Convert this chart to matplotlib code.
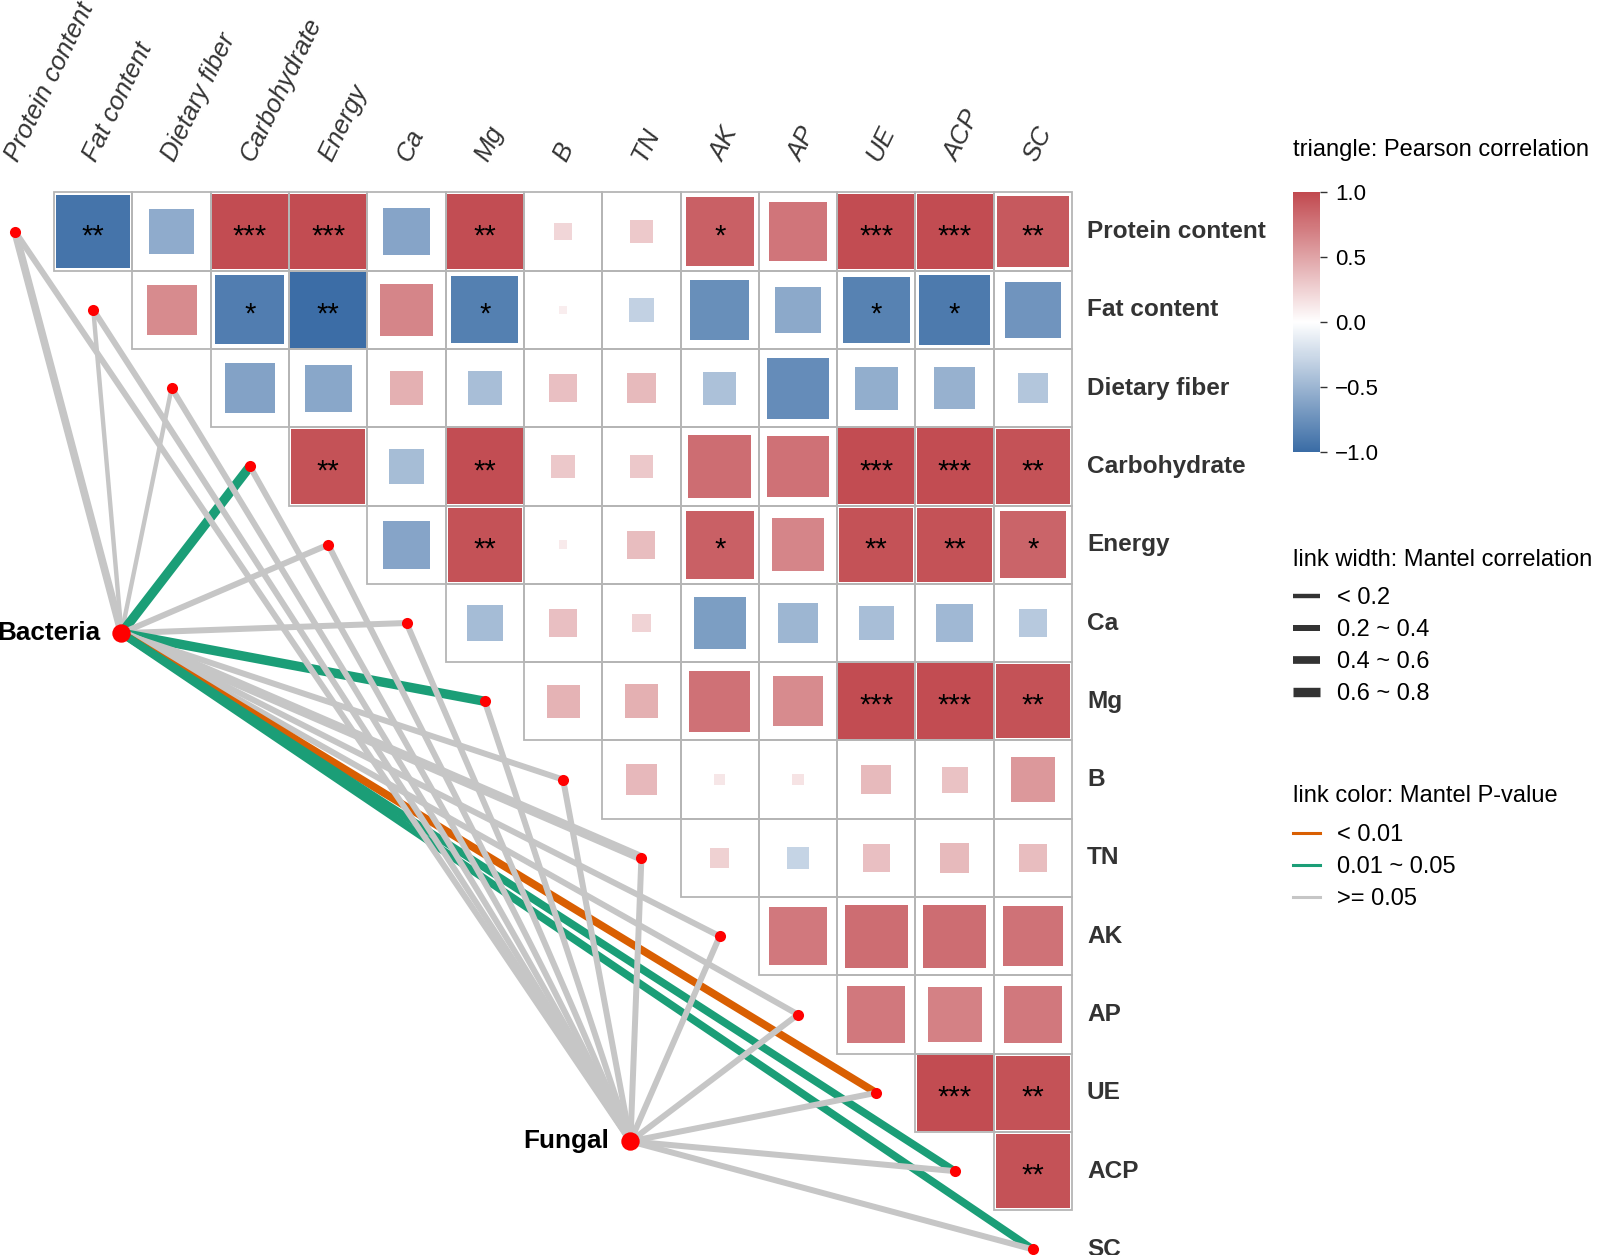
import numpy as np
import matplotlib.pyplot as plt
from matplotlib.colors import LinearSegmentedColormap, Normalize
from matplotlib.patches import Rectangle
from matplotlib.lines import Line2D
from matplotlib.cm import ScalarMappable

plt.rcParams['font.family'] = ['Liberation Sans', 'DejaVu Sans']

variables = ['Protein content', 'Fat content', 'Dietary fiber', 'Carbohydrate', 'Energy',
             'Ca', 'Mg', 'B', 'TN', 'AK', 'AP', 'UE', 'ACP', 'SC']

# upper triangle of the Pearson matrix: row i holds columns i+1 .. 13
r_upper = [
    [-0.94, -0.57, 0.98, 0.98, -0.61, 0.97, 0.22, 0.29, 0.87, 0.75, 0.98, 0.98, 0.91],
    [0.64, -0.88, -0.99, 0.67, -0.86, 0.10, -0.31, -0.76, -0.58, -0.85, -0.90, -0.72],
    [-0.63, -0.60, 0.43, -0.44, 0.35, 0.38, -0.42, -0.78, -0.55, -0.53, -0.39],
    [0.95, -0.45, 0.97, 0.30, 0.30, 0.80, 0.78, 0.98, 0.98, 0.95],
    [-0.61, 0.95, 0.11, 0.36, 0.87, 0.67, 0.95, 0.95, 0.85],
    [-0.46, 0.35, 0.24, -0.66, -0.50, -0.44, -0.48, -0.36],
    [0.42, 0.43, 0.78, 0.64, 0.98, 0.98, 0.95],
    [0.39, 0.14, 0.15, 0.38, 0.33, 0.57],
    [0.25, -0.29, 0.35, 0.38, 0.36],
    [0.74, 0.80, 0.80, 0.77],
    [0.74, 0.69, 0.74],
    [0.98, 0.95],
    [0.95],
]

stars_upper = [
    ['**', '', '***', '***', '', '**', '', '', '*', '', '***', '***', '**'],
    ['', '*', '**', '', '*', '', '', '', '', '*', '*', ''],
    [''] * 11,
    ['**', '', '**', '', '', '', '', '***', '***', '**'],
    ['', '**', '', '', '*', '', '**', '**', '*'],
    [''] * 8,
    ['', '', '', '', '***', '***', '**'],
    [''] * 6,
    [''] * 5,
    [''] * 4,
    [''] * 3,
    ['***', '**'],
    ['**'],
]

# Mantel test of each community against every variable
mantel_r_bacteria = [0.52, 0.16, 0.14, 0.66, 0.31, 0.29, 0.64, 0.33, 0.68, 0.28, 0.30, 0.47, 0.53, 0.49]
mantel_p_bacteria = [0.08, 0.42, 0.51, 0.02, 0.19, 0.24, 0.03, 0.16, 0.06, 0.27, 0.22, 0.008, 0.03, 0.04]
mantel_r_fungal = [0.31, 0.27, 0.33, 0.29, 0.26, 0.28, 0.30, 0.27, 0.22, 0.29, 0.21, 0.30, 0.32, 0.28]
mantel_p_fungal = [0.31, 0.44, 0.27, 0.36, 0.40, 0.29, 0.33, 0.38, 0.52, 0.25, 0.47, 0.21, 0.18, 0.26]

communities = ['Bacteria', 'Fungal']
node_pos = {'Bacteria': (1.36, 5.13), 'Fungal': (7.86, 11.62)}

width_labels = ['< 0.2', '0.2 ~ 0.4', '0.4 ~ 0.6', '0.6 ~ 0.8']
width_px = [4.4, 6.0, 7.7, 9.4]
p_labels = ['< 0.01', '0.01 ~ 0.05', '>= 0.05']
p_colors = ['#D95F02', '#1B9E77', '#C6C6C6']

PX = 1 / 1.389  # pixels -> points at dpi 100

def link_width(r):
    return width_px[np.digitize(r, [0.2, 0.4, 0.6])] * PX

def link_color(p):
    return p_colors[np.digitize(p, [0.01, 0.05])]

cmap = LinearSegmentedColormap.from_list('rb', ['#3A6CA5', '#FFFFFF', '#C1494F'])
norm = Normalize(-1, 1)

fig = plt.figure(figsize=(16, 12.55), dpi=100)
ax = fig.add_axes([0, 0, 1, 1])
u, x0, y0 = 78.3, 15, 231.5
ax.set_xlim(-x0 / u, (1600 - x0) / u)
ax.set_ylim((1255 - y0) / u, -y0 / u)
ax.axis('off')

n = len(variables)
for i, row in enumerate(r_upper):
    for k, r in enumerate(row):
        j = i + 1 + k
        s = min(abs(r), 0.97)
        ax.add_patch(Rectangle((j - s / 2, i - s / 2), s, s, facecolor=cmap(norm(r)),
                               edgecolor='none', zorder=1))
        ax.add_patch(Rectangle((j - 0.5, i - 0.5), 1, 1, fill=False,
                               edgecolor='#B5B5B5', lw=1.3, zorder=2))
        if stars_upper[i][k]:
            ax.text(j, i + 0.06, stars_upper[i][k], ha='center', va='center', fontsize=21, zorder=3)

# column labels on top, row labels on the right
for j, name in enumerate(variables):
    ax.text(j + 0.04, -0.88, name, rotation=64, rotation_mode='anchor', ha='left',
            va='baseline', style='italic', fontsize=18.5, color='#333333')
    ax.text(n - 0.5 + 0.19, j, name, ha='left', va='center', fontsize=17.6,
            fontweight='bold', color='#333333')

# mantel links
for name, rs, ps in [('Bacteria', mantel_r_bacteria, mantel_p_bacteria),
                     ('Fungal', mantel_r_fungal, mantel_p_fungal)]:
    nx, ny = node_pos[name]
    for i in range(n):
        ax.plot([nx, i], [ny, i], color=link_color(ps[i]), lw=link_width(rs[i]),
                solid_capstyle='butt', zorder=4)

ax.scatter(range(n), range(n), s=64, color='red', zorder=6, linewidths=0)
for name in communities:
    nx, ny = node_pos[name]
    ax.scatter([nx], [ny], s=175, color='red', zorder=6, linewidths=0)
    ax.annotate(name, (nx, ny), xytext=(-15, 0), textcoords='offset points', ha='right',
                va='center', fontsize=18.8, fontweight='bold', color='black')

# colour bar
fig.text(1293 / 1600, 1 - 150 / 1255, 'triangle: Pearson correlation', ha='left',
         va='center', fontsize=17)
cax = fig.add_axes([1293 / 1600, 1 - 452 / 1255, 27 / 1600, 260 / 1255])
cb = fig.colorbar(ScalarMappable(norm=norm, cmap=cmap), cax=cax, ticks=[-1, -0.5, 0, 0.5, 1])
cb.outline.set_visible(False)
cb.ax.set_yticklabels(['\u22121.0', '\u22120.5', '0.0', '0.5', '1.0'])
cax.tick_params(length=5, width=1, color='#333333', labelsize=16, pad=6)

# link legends
fig.text(1293 / 1600, 1 - 560 / 1255, 'link width: Mantel correlation', ha='left',
         va='center', fontsize=17)
h_w = [Line2D([], [], color='#333333', lw=w * PX, solid_capstyle='butt') for w in width_px]
leg1 = fig.legend(h_w, width_labels, loc='upper left', bbox_to_anchor=(1293 / 1600, 1 - 587 / 1255),
                  frameon=False, fontsize=17, borderpad=0, borderaxespad=0,
                  handlelength=1.15, handletextpad=0.7, labelspacing=0.43)
fig.text(1293 / 1600, 1 - 796 / 1255, 'link color: Mantel P-value', ha='left',
         va='center', fontsize=17)
h_c = [Line2D([], [], color=c, lw=2.2) for c in p_colors]
leg2 = fig.legend(h_c, p_labels, loc='upper left', bbox_to_anchor=(1293 / 1600, 1 - 824 / 1255),
                  frameon=False, fontsize=17, borderpad=0, borderaxespad=0,
                  handlelength=1.15, handletextpad=0.7, labelspacing=0.43)

fig.savefig('out.png', dpi=100)
